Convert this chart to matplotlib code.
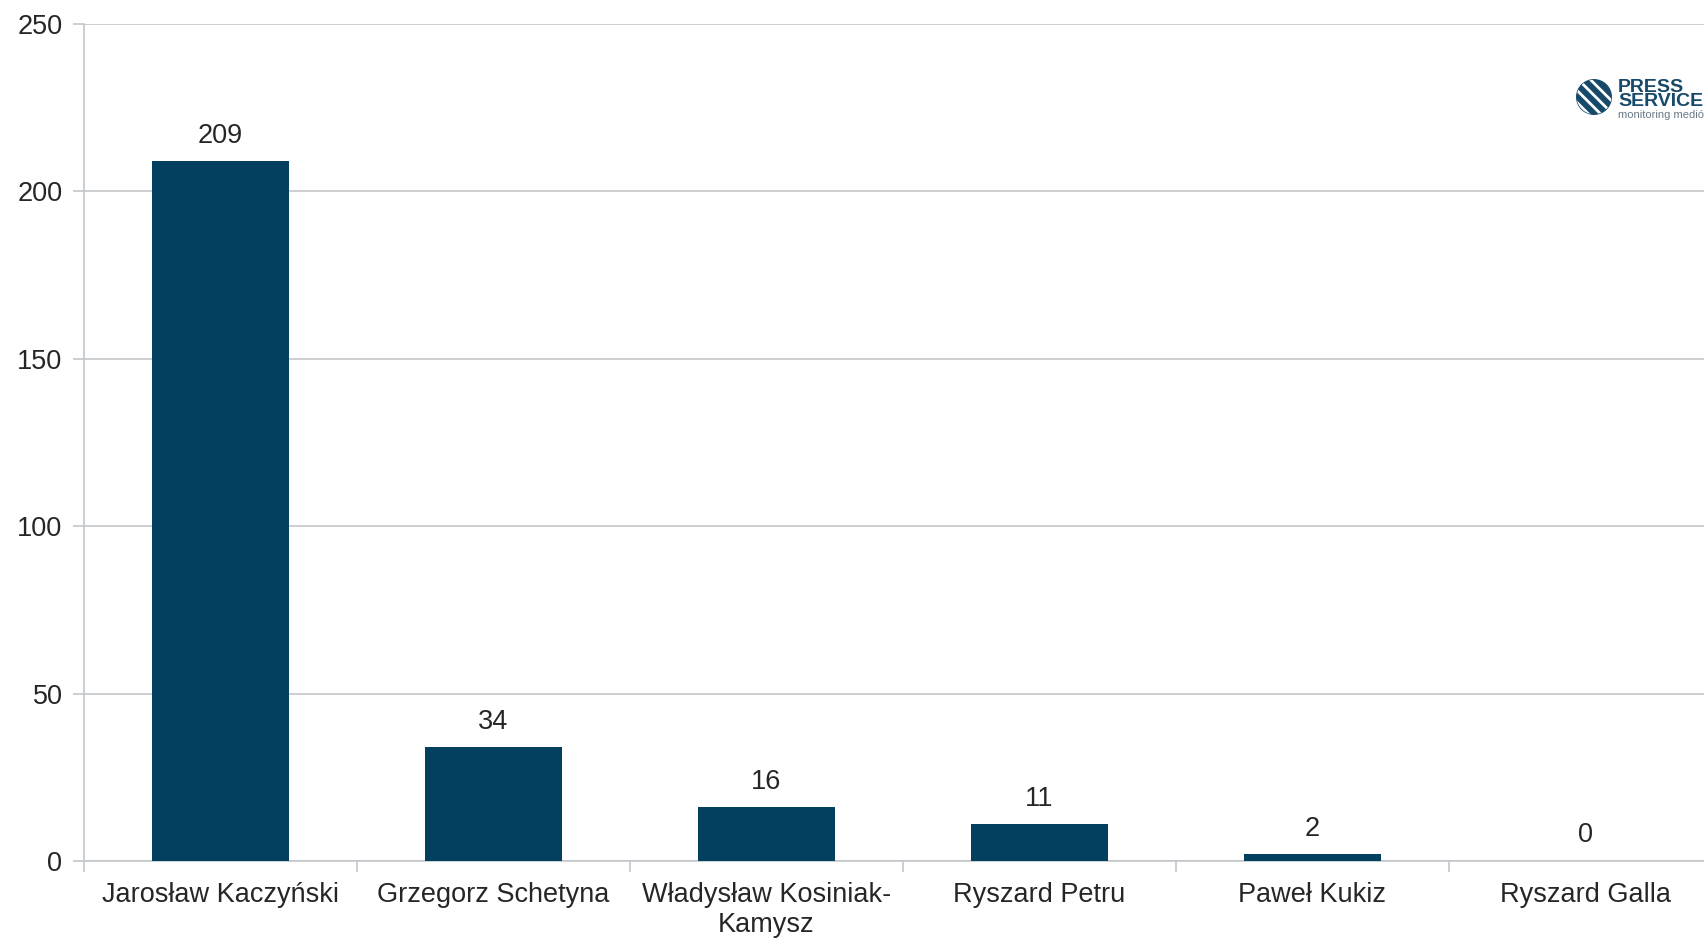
import matplotlib.pyplot as plt
from matplotlib.patches import Circle

names = ['Jarosław Kaczyński', 'Grzegorz Schetyna', 'Władysław Kosiniak-\nKamysz',
         'Ryszard Petru', 'Paweł Kukiz', 'Ryszard Galla']
values = [209, 34, 16, 11, 2, 0]
yticks = [0, 50, 100, 150, 200, 250]

plt.rcParams['font.family'] = ['Liberation Sans', 'DejaVu Sans']
txt = '#262626'
grid = '#c3c7cb'
bar_color = '#033f5f'

fig = plt.figure(figsize=(17.04, 9.4), dpi=100)
ax = fig.add_axes([84 / 1704, 79 / 940, 1638 / 1704, 837 / 940])

x = list(range(len(values)))
ax.bar(x, values, width=0.5, color=bar_color, zorder=3)
for i, v in zip(x, values):
    ax.annotate(str(v), (i, v), xytext=(0, 9), textcoords='offset points',
                ha='center', va='bottom', fontsize=19.5, color=txt)

ax.set_xlim(-0.5, len(values) - 0.5)
ax.set_ylim(0, 250)
ax.set_yticks(yticks)
ax.set_yticklabels([str(t) for t in yticks])
ax.yaxis.grid(True, color=grid, linewidth=1.2, zorder=0)
ax.tick_params(axis='y', length=8, color=grid, width=1.2, labelsize=19.5,
               labelcolor=txt, pad=7.5)

ax.set_xticks(x)
ax.set_xticklabels(names)
ax.set_xticks([i + 0.5 for i in range(-1, len(values))], minor=True)
ax.tick_params(axis='x', which='major', length=0, labelsize=19.5, labelcolor=txt, pad=15)
ax.tick_params(axis='x', which='minor', length=8, color=grid, width=1.2)

for s in ['top', 'right']:
    ax.spines[s].set_visible(False)
for s in ['left', 'bottom']:
    ax.spines[s].set_color(grid)
    ax.spines[s].set_linewidth(1.2)

# logo (cut off at the right edge like the original)
logo_blue = '#17496b'
lax = fig.add_axes([1575 / 1704, 1 - 116 / 940, 38 / 1704, 38 / 940])
lax.set_xlim(-1.1, 1.1)
lax.set_ylim(-1.1, 1.1)
lax.axis('off')
disc = Circle((0, 0), 1, color=logo_blue)
lax.add_patch(disc)
for off in [-0.55, -0.2, 0.15, 0.5]:
    ln, = lax.plot([-1.2 + off, 0.6 + off], [1.0 + off, -0.8 + off], color='white', lw=2)
    ln.set_clip_path(disc)
fig.text(1618 / 1704, 1 - 92 / 940, 'PRESS', fontsize=14, fontweight='bold',
         color=logo_blue, va='baseline')
fig.text(1618 / 1704, 1 - 106 / 940, 'SERVICE', fontsize=14, fontweight='bold',
         color=logo_blue, va='baseline')
fig.text(1618 / 1704, 1 - 118 / 940, 'monitoring mediów', fontsize=8,
         color='#6a7a86', va='baseline')

fig.savefig('out.png', dpi=100)
